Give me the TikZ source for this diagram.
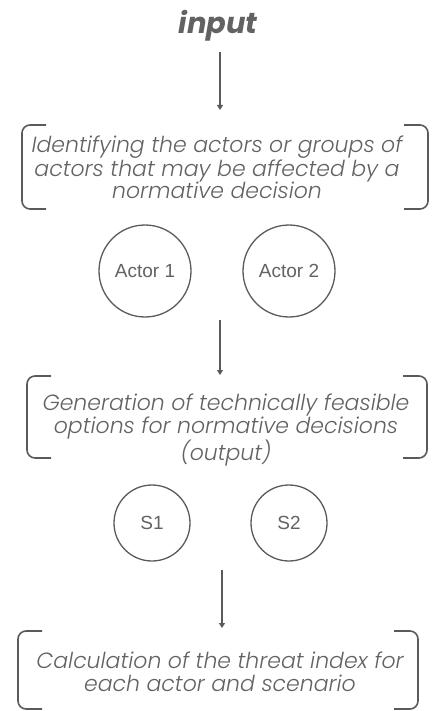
\documentclass[tikz,border=0pt]{standalone}
\usepackage{fontspec}
\setmainfont{Poppins}
\newfontfamily\poplight{Poppins Light}
\newfontfamily\labelfont{Liberation Sans}
\usetikzlibrary{arrows.meta}
\definecolor{ink}{HTML}{5A5A5A}
\definecolor{txt}{HTML}{626262}
\tikzset{
  x=1pt, y=-1pt,
  flow/.style={draw=ink, line width=1.4pt, -{Triangle[width=6pt,length=5pt]}},
  bracket/.style={draw=ink, line width=1.6pt, rounded corners=8pt},
  stepbox/.style={align=center, text=txt, font=\poplight\itshape\fontsize{22}{22.5}\selectfont, inner sep=0pt},
  ring/.style={circle, draw=ink, line width=1.3pt, text=txt, font=\labelfont\fontsize{19}{22}\selectfont, inner sep=0pt},
  title/.style={text=txt, font=\bfseries\itshape\fontsize{29}{32}\selectfont, inner sep=0pt}
}
% square bracket pair enclosing a text block: left, right, top, bottom
\newcommand{\bracketpair}[4]{%
  \draw[bracket] (#1+24,#3) -- (#1,#3) -- (#1,#4) -- (#1+24,#4);
  \draw[bracket] (#2-24,#3) -- (#2,#3) -- (#2,#4) -- (#2-24,#4);
}
\begin{document}
\begin{tikzpicture}
\useasboundingbox (0,0) rectangle (431,711);

\node[title] (input) at (218,26) {input};

% first stage
\bracketpair{22}{428}{125}{209}
\node[stepbox] (identify) at (217,167.5) {Identifying the actors or groups of\\actors that may be affected by a\\normative decision};
\node[ring, minimum size=92pt] (actor1) at (145,271) {Actor 1};
\node[ring, minimum size=92pt] (actor2) at (289,271) {Actor 2};

% second stage
\bracketpair{27}{427}{376}{458}
\node[stepbox] (generate) at (226,430) {Generation of technically feasible\\options for normative decisions\\(output)};
\node[ring, minimum size=76pt] (s1) at (152,523) {S1};
\node[ring, minimum size=76pt] (s2) at (289,523) {S2};

% third stage
\bracketpair{18}{418}{631}{709}
\node[stepbox] (calc) at (220,672) {Calculation of the threat index for\\each actor and scenario};

% connectors
\coordinate (a1s) at (220,52);
\coordinate (a1e) at (220,110);
\coordinate (a2s) at (220,320);
\coordinate (a2e) at (220,375);
\coordinate (a3s) at (222,570);
\coordinate (a3e) at (222,628);
\draw[flow] (a1s) -- (a1e);
\draw[flow] (a2s) -- (a2e);
\draw[flow] (a3s) -- (a3e);
\end{tikzpicture}
\end{document}
